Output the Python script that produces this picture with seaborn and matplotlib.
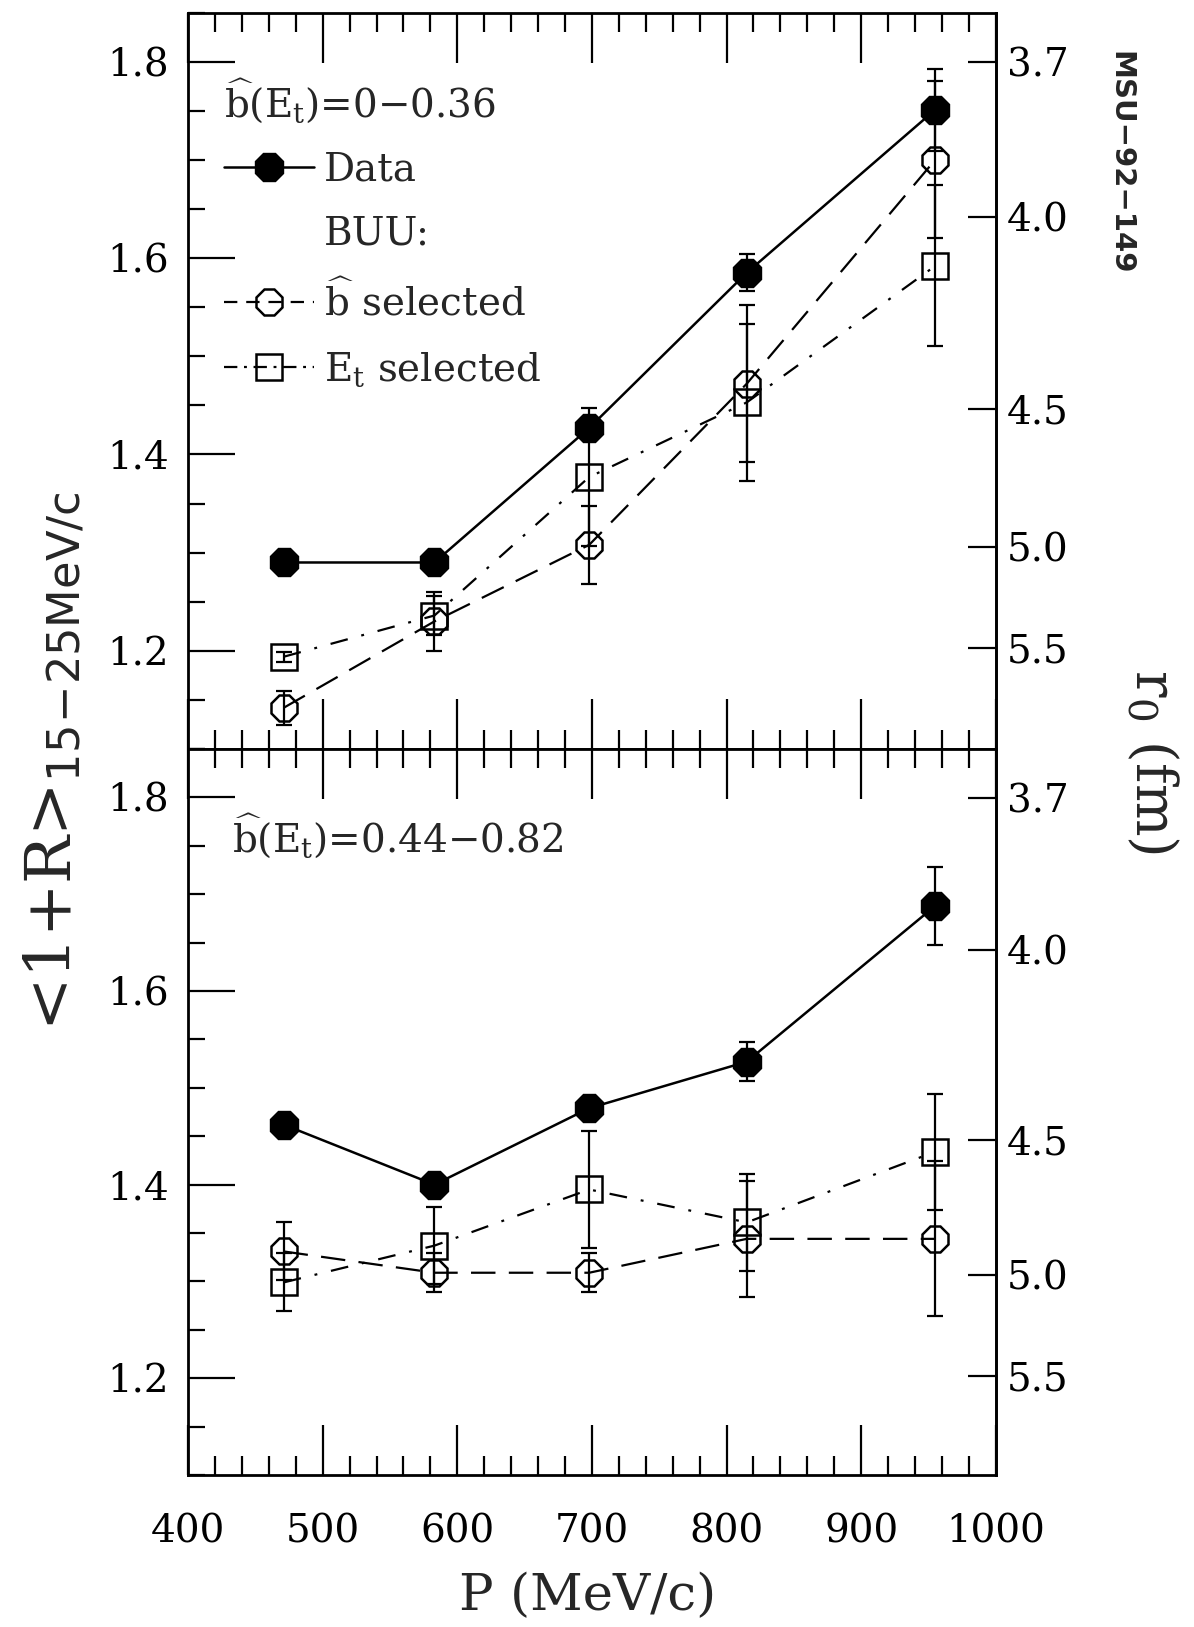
import numpy as np
import pandas as pd
import matplotlib
matplotlib.use("Agg")
import matplotlib.pyplot as plt
import seaborn as sns
from matplotlib.lines import Line2D
from matplotlib.ticker import MultipleLocator, FixedLocator, FormatStrFormatter

# ---------------- data ----------------
P = [471, 583, 698, 815, 955]

top_data = [1.290, 1.290, 1.427, 1.585, 1.751]
top_data_err = [0.008, 0.008, 0.010, 0.019, 0.042]
top_b = [1.142, 1.230, 1.308, 1.472, 1.700]
top_b_err = [0.017, 0.030, 0.040, 0.080, 0.080]
top_et = [1.194, 1.236, 1.377, 1.453, 1.592]
top_et_err = [0.005, 0.020, 0.070, 0.080, 0.082]

bot_data = [1.462, 1.400, 1.479, 1.527, 1.688]
bot_data_err = [0.008, 0.008, 0.010, 0.020, 0.040]
bot_b = [1.331, 1.309, 1.309, 1.344, 1.344]
bot_b_err = [0.030, 0.020, 0.020, 0.060, 0.080]
bot_et = [1.299, 1.337, 1.395, 1.361, 1.434]
bot_et_err = [0.030, 0.040, 0.060, 0.050, 0.060]

r0_ticks = [3.7, 4.0, 4.5, 5.0, 5.5]
x_ticks = [400, 500, 600, 700, 800, 900, 1000]
y_ticks = [1.2, 1.4, 1.6, 1.8]

# conversion <1+R>  <->  r0 (fm)
R_A, R_B = 0.709, 14.93


def r0_to_R(r):
    r = np.asarray(r, dtype=float)
    return R_A + R_B / np.clip(r, 1e-6, None) ** 2


def R_to_r0(R):
    R = np.asarray(R, dtype=float)
    return np.sqrt(R_B / np.clip(R - R_A, 1e-6, None))


# ---------------- style ----------------
sns.set_theme(style="ticks")
plt.rcParams["font.family"] = ["DejaVu Serif"]
plt.rcParams["mathtext.fontset"] = "dejavuserif"
FS = 28

fig = plt.figure(figsize=(11.94, 16.27), dpi=100)
L, Rr = 0.1575, 0.834
ax_top = fig.add_axes([L, 0.5396, Rr - L, 0.9923 - 0.5396])
ax_bot = fig.add_axes([L, 0.0934, Rr - L, 0.5396 - 0.0934])

DASH_B = (0, (11, 6))
DASH_E = (0, (8, 6.3, 1.3, 6.3))


def panel(ax, data, data_err, bsel, bsel_err, esel, esel_err, bottom):
    df = pd.DataFrame({"P": P, "data": data, "b": bsel, "e": esel})
    for vals, errs in ((data, data_err), (bsel, bsel_err), (esel, esel_err)):
        ax.errorbar(P, vals, yerr=errs, fmt="none", ecolor="black",
                    elinewidth=1.6, capsize=6, capthick=1.6, zorder=2)
    sns.lineplot(data=df, x="P", y="e", ax=ax, color="black", lw=1.6,
                 linestyle=DASH_E, marker="s", markersize=19,
                 markerfacecolor="none", markeredgecolor="black",
                 markeredgewidth=1.8, sort=False, estimator=None,
                 errorbar=None, legend=False, zorder=3)
    sns.lineplot(data=df, x="P", y="b", ax=ax, color="black", lw=1.6,
                 linestyle=DASH_B, marker="8", markersize=20,
                 markerfacecolor="none", markeredgecolor="black",
                 markeredgewidth=1.8, sort=False, estimator=None,
                 errorbar=None, legend=False, zorder=3)
    sns.lineplot(data=df, x="P", y="data", ax=ax, color="black", lw=1.8,
                 linestyle="-", marker="8", markersize=22,
                 markerfacecolor="black", markeredgecolor="black",
                 markeredgewidth=1.0, sort=False, estimator=None,
                 errorbar=None, legend=False, zorder=4)

    ax.set_xlim(400, 1000)
    ax.set_ylim(1.1, 1.85)
    ax.xaxis.set_major_locator(FixedLocator(x_ticks))
    ax.xaxis.set_minor_locator(MultipleLocator(20))
    ax.yaxis.set_major_locator(FixedLocator(y_ticks))
    ax.yaxis.set_minor_locator(MultipleLocator(0.05))
    ax.yaxis.set_major_formatter(FormatStrFormatter("%.1f"))
    ax.tick_params(which="both", direction="in", top=True, bottom=True,
                   left=True, right=False, width=1.6, colors="black")
    ax.tick_params(which="major", axis="x", length=36)
    ax.tick_params(which="minor", axis="x", length=14)
    ax.tick_params(which="major", axis="y", length=34, labelsize=FS, pad=14)
    ax.tick_params(which="minor", axis="y", length=12)
    ax.tick_params(axis="x", labelsize=FS, pad=28)
    if not bottom:
        ax.tick_params(axis="x", labelbottom=False)
    ax.set_xlabel("")
    ax.set_ylabel("")
    for s in ax.spines.values():
        s.set_linewidth(2.0)
        s.set_color("black")
        s.set_visible(True)

    sec = ax.secondary_yaxis("right", functions=(R_to_r0, r0_to_R))
    sec.yaxis.set_major_locator(FixedLocator(r0_ticks))
    sec.yaxis.set_minor_locator(FixedLocator([]))
    sec.yaxis.set_major_formatter(FormatStrFormatter("%.1f"))
    sec.tick_params(which="major", direction="in", length=20, width=1.6,
                    labelsize=FS, pad=8, colors="black")
    sec.spines["right"].set_linewidth(2.0)


panel(ax_top, top_data, top_data_err, top_b, top_b_err, top_et, top_et_err, False)
panel(ax_bot, bot_data, bot_data_err, bot_b, bot_b_err, bot_et, bot_et_err, True)

# legend in the top panel
h_title = r"$\widehat{\mathrm{b}}$(E$_\mathrm{t}$)=0$-$0.36"
handles = [
    Line2D([], [], color="black", lw=1.8, marker="8", markersize=22,
           markerfacecolor="black", markeredgecolor="black"),
    Line2D([], [], color="none", lw=0),
    Line2D([], [], color="black", lw=1.6, linestyle=(0, (6, 4)), marker="8",
           markersize=20, markerfacecolor="none", markeredgecolor="black",
           markeredgewidth=1.8),
    Line2D([], [], color="black", lw=1.6, linestyle=(0, (6, 3, 1.3, 3)),
           marker="s", markersize=19, markerfacecolor="none",
           markeredgecolor="black", markeredgewidth=1.8),
]
labels = ["Data", "BUU:", r"$\widehat{\mathrm{b}}$ selected",
          r"E$_\mathrm{t}$ selected"]
leg = ax_top.legend(handles, labels, loc="upper left",
                    bbox_to_anchor=(0.045, 0.914), frameon=False,
                    fontsize=FS, title=h_title, title_fontsize=FS,
                    alignment="left", handlelength=2.3, handletextpad=0.25,
                    labelspacing=0.70, borderpad=0.0, borderaxespad=0.0)

ax_bot.text(0.055, 0.881, r"$\widehat{\mathrm{b}}$(E$_\mathrm{t}$)=0.44$-$0.82",
            transform=ax_bot.transAxes, fontsize=FS, ha="left", va="center")

# axis labels
fig.text(0.045, 0.532,
         r"<1+R>$_{\mathsf{15\!-\!25MeV/c}}$",
         rotation=90, fontsize=46, ha="center", va="center")
fig.text(0.964, 0.532, r"r$_\mathrm{0}$ (fm)", rotation=270, fontsize=40,
         ha="center", va="center")
fig.text(0.4925, 0.019, "P (MeV/c)", fontsize=37, ha="center", va="center")
fig.text(0.938, 0.900, "MSU\u221292\u2212149", rotation=270, fontsize=21,
         fontweight="bold", family=["DejaVu Sans"], ha="center", va="center")

fig.savefig("out.png", dpi=100)
